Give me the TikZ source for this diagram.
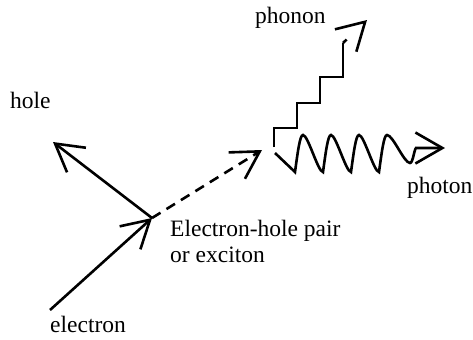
\documentclass[tikz,border=0pt]{standalone}
\usepackage{fontspec}
\setmainfont{Liberation Serif}
\usetikzlibrary{arrows.meta}
\begin{document}
\begin{tikzpicture}[x=1bp,y=-1bp,
  line/.style={line width=2.6bp},
  arr/.style={line,-{Straight Barb[length=27bp,width=31bp]}},
  lbl/.style={font=\fontsize{23.5bp}{25.5bp}\selectfont,anchor=base west,inner sep=0pt}]
\useasboundingbox (0,0) rectangle (473,339);

\coordinate (e0) at (50,310);
\coordinate (pair) at (152,218);
\coordinate (h1) at (53,142);
\coordinate (x1) at (262,150);
\coordinate (ph0) at (274,147);
\coordinate (ph1) at (367,20);
\coordinate (pt0) at (275,153);
\coordinate (pt1) at (445,148);

\draw[arr] (e0) -- (pair);
\draw[arr] (pair) -- (h1);
\draw[arr,dash pattern=on 10bp off 7bp] (pair) -- (x1);

% phonon
\draw[line] (ph0) -- (274,128) -- (297,128) -- (297,103) -- (320,103)
  -- (320,77) -- (343,77) -- (343,43);
\draw[arr,dash pattern=on 5bp off 40bp] (343,43) -- (ph1);

% photon
\draw[arr] (pt0) -- (295,172)
  .. controls (298,150) and (300,135) .. (303,135)
  .. controls (308,135) and (318,172) .. (323,172)
  .. controls (326,150) and (328,135) .. (331,135)
  .. controls (336,135) and (346,172) .. (351,172)
  .. controls (354,150) and (356,135) .. (359,135)
  .. controls (364,135) and (374,172) .. (379,172)
  .. controls (382,150) and (384,135) .. (387,135)
  .. controls (393,135) and (404,163) .. (410,163)
  .. controls (413,163) and (414,150) .. (416,148)
  -- (pt1);

\node[lbl] (hole) at (10,108) {hole};
\node[lbl] (phonon) at (255,23) {phonon};
\node[lbl] (photon) at (407,193) {photon};
\node[lbl] (electron) at (50,332) {electron};
\node[lbl,align=left] (exciton) at (170,262) {Electron-hole pair\\or exciton};
\end{tikzpicture}
\end{document}
